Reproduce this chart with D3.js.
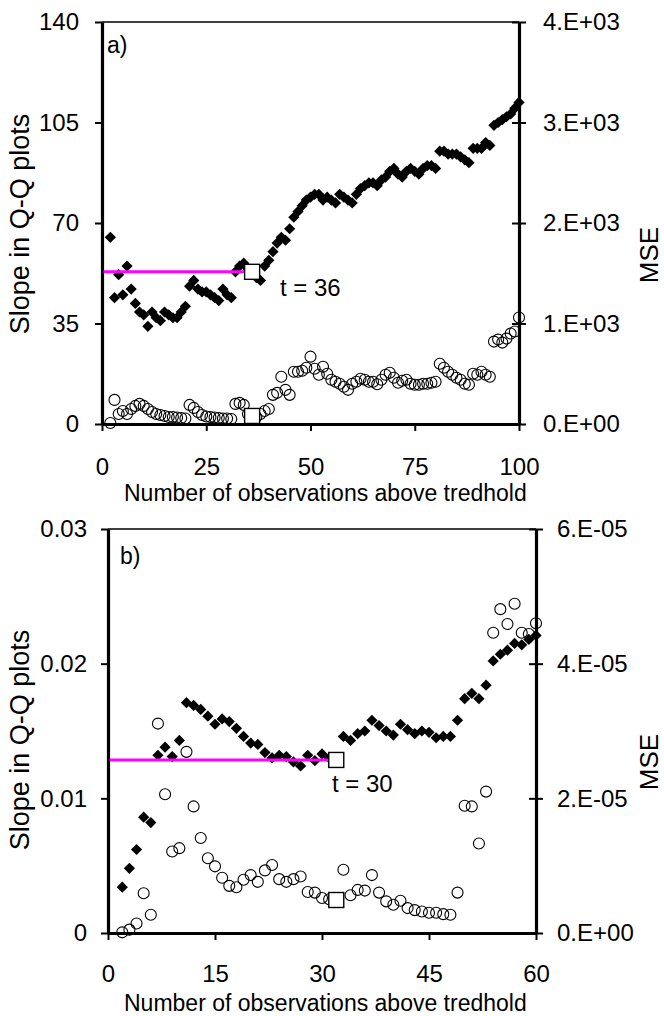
<!DOCTYPE html>
<html>
<head>
<meta charset="utf-8">
<script src="https://cdn.jsdelivr.net/npm/d3@7"></script>
<style>
  html, body { margin: 0; padding: 0; background: #fff; }
  svg { display: block; }
  text { font-family: "Liberation Sans", Arial, sans-serif; fill: #000; }
</style>
</head>
<body>
<svg id="chart" width="664" height="1016"></svg>
<script>
// ---------------- DATA ----------------
// Panel a: x = 2 .. 100
const xStartA = 2;
const slopeA = [65,44,52,45,55,47,42,39,38,34,
  39,37,36,39,38,37,37,39,41,48,
  50,47,46,46,45,44,43,47,45,44,
  53,55,56,54,53,51,50,55,57,60,
  63,65,64,68,72,74,76,78,79,80,
  80,78,79,78,77,80,79,78,77,80,
  82,83,84,84,83,85,86,88,89,87,
  86,88,89,88,87,89,90,90,89,95,
  95,94,94,94,93,92,91,96,96,96,
  98,97,104,105,106,107,108,110,112];
const mseA = [10,240,100,130,100,150,180,200,180,150,
  120,100,90,80,70,70,65,60,55,190,
  160,120,90,75,70,65,60,55,55,50,
  200,210,190,100,80,70,100,130,150,290,
  310,470,340,290,520,520,530,560,670,550,
  490,570,500,440,420,400,370,340,400,420,
  450,440,420,420,395,440,490,510,460,410,
  430,440,400,390,390,400,400,410,420,600,
  560,520,490,460,440,400,390,500,490,520,
  490,470,820,840,810,850,900,920,1060];
const thresholdA = {x: 36, slope: 53, mse: 80, label: "t = 36"};

// Panel b: x = 2 .. 60
const xStartB = 2;
const slopeB = [0.0034,0.0048,0.0062,0.0086,0.0082,0.0132,0.0138,0.0131,0.0143,0.0171,
  0.0169,0.0166,0.0161,0.0155,0.0159,0.0157,0.0152,0.0146,0.0141,0.0140,
  0.0134,0.0130,0.0132,0.0131,0.0127,0.0124,0.0132,0.0128,0.0133,0.0130,
  0.0128,0.0146,0.0143,0.0148,0.0150,0.0158,0.0154,0.0150,0.0147,0.0155,
  0.0151,0.0148,0.0150,0.0149,0.0145,0.0146,0.0146,0.0158,0.0174,0.0178,
  0.0174,0.0184,0.0202,0.0207,0.0210,0.0215,0.0214,0.0218,0.0221];
const mseB = [0.1e-6,0.5e-6,1.4e-6,5.9e-6,2.7e-6,31.1e-6,20.6e-6,12.1e-6,12.6e-6,26.9e-6,
  18.8e-6,14.1e-6,11.1e-6,9.9e-6,8.2e-6,7.0e-6,6.8e-6,7.9e-6,8.6e-6,7.6e-6,
  9.3e-6,10.1e-6,8.0e-6,7.6e-6,8.0e-6,8.4e-6,6.1e-6,6.0e-6,5.2e-6,5.0e-6,
  4.9e-6,9.4e-6,5.6e-6,6.4e-6,6.3e-6,8.6e-6,6.0e-6,4.7e-6,4.2e-6,4.8e-6,
  3.7e-6,3.4e-6,3.2e-6,3.0e-6,3.0e-6,2.8e-6,2.7e-6,6.0e-6,18.9e-6,18.8e-6,
  13.3e-6,21.0e-6,44.6e-6,48.1e-6,45.9e-6,48.9e-6,44.6e-6,44.4e-6,46.0e-6];
const thresholdB = {x: 32, slope: 0.01285, mse: 4.9e-6, label: "t = 30"};

// Ticks
const xTicksA = [0,25,50,75,100];
const xTickLabelsA = ["0","25","50","75","100"];
const yTicksA = [0,35,70,105,140];
const yTickLabelsA = ["0","35","70","105","140"];
const rTicksA = [0,1000,2000,3000,4000];
const rTickLabelsA = ["0.E+00","1.E+03","2.E+03","3.E+03","4.E+03"];

const xTicksB = [0,15,30,45,60];
const xTickLabelsB = ["0","15","30","45","60"];
const yTicksB = [0,0.01,0.02,0.03];
const yTickLabelsB = ["0","0.01","0.02","0.03"];
const rTicksB = [0,2e-5,4e-5,6e-5];
const rTickLabelsB = ["0.E+00","2.E-05","4.E-05","6.E-05"];

const xTitle = "Number of observations above tredhold";
const yTitle = "Slope in Q-Q plots";
const rTitle = "MSE";

// ---------------- DRAW ----------------
const svg = d3.select("#chart");
const FONT_TICK = 24;

function drawPanel(cfg) {
  const g = svg.append("g");
  const x = d3.scaleLinear().domain([0, cfg.xTicks[cfg.xTicks.length-1]]).range([cfg.left, cfg.right]);
  const yL = d3.scaleLinear().domain([0, cfg.yTicks[cfg.yTicks.length-1]]).range([cfg.bottom, cfg.top]);
  const yR = d3.scaleLinear().domain([0, cfg.rTicks[cfg.rTicks.length-1]]).range([cfg.bottom, cfg.top]);

  // top border
  g.append("line").attr("x1", cfg.left).attr("x2", cfg.right)
    .attr("y1", cfg.top).attr("y2", cfg.top)
    .attr("stroke", "#000").attr("stroke-width", 1.6);

  // left axis
  const gl = g.append("g").attr("transform", `translate(${cfg.left},0)`)
    .call(d3.axisLeft(yL).tickValues(cfg.yTicks).tickFormat((d,i)=>cfg.yLabels[i])
      .tickSizeInner(7).tickSizeOuter(0).tickPadding(cfg.leftPad));
  // right axis
  const gr = g.append("g").attr("transform", `translate(${cfg.right},0)`)
    .call(d3.axisRight(yR).tickValues(cfg.rTicks).tickFormat((d,i)=>cfg.rLabels[i])
      .tickSizeInner(7).tickSizeOuter(0).tickPadding(cfg.rightPad));
  gr.selectAll(".tick line").attr("x1", -7).attr("x2", 7);
  // bottom axis
  const gb = g.append("g").attr("transform", `translate(0,${cfg.bottom})`)
    .call(d3.axisBottom(x).tickValues(cfg.xTicks).tickFormat((d,i)=>cfg.xLabels[i])
      .tickSizeInner(7).tickSizeOuter(0));
  gb.selectAll(".tick text").attr("y", cfg.xLabelBase).attr("dy", 0);

  [gl, gr, gb].forEach(a => {
    a.select(".domain").attr("stroke", "#000").attr("stroke-width", 3.2);
    a.selectAll(".tick line").attr("stroke", "#000").attr("stroke-width", 2);
    a.selectAll(".tick text").attr("font-size", FONT_TICK)
      .attr("font-family", '"Liberation Sans", Arial, sans-serif').attr("fill", "#000");
  });

  const pts = g.append("g");
  // MSE circles (right axis)
  pts.selectAll("circle.mse").data(cfg.mse).join("circle")
    .attr("class", "mse")
    .attr("cx", (d,i)=>x(i + cfg.xStart))
    .attr("cy", d=>yR(d))
    .attr("r", 5.5)
    .attr("fill", "none").attr("stroke", "#000").attr("stroke-width", 1.1);

  // slope diamonds (left axis)
  const dm = 5.6;
  pts.selectAll("path.slope").data(cfg.slope).join("path")
    .attr("class", "slope")
    .attr("transform", (d,i)=>`translate(${x(i + cfg.xStart)},${yL(d)})`)
    .attr("d", `M0,${-dm}L${dm},0L0,${dm}L${-dm},0Z`)
    .attr("fill", "#000");

  // magenta threshold line
  g.append("line")
    .attr("x1", x(0) + 1.5).attr("x2", x(cfg.th.x))
    .attr("y1", yL(cfg.th.slope)).attr("y2", yL(cfg.th.slope))
    .attr("stroke", "#FF00FF").attr("stroke-width", 3);

  // squares
  const sq = 15;
  [yL(cfg.th.slope), yR(cfg.th.mse)].forEach(cy => {
    g.append("rect")
      .attr("x", x(cfg.th.x) - sq/2).attr("y", cy - sq/2)
      .attr("width", sq).attr("height", sq)
      .attr("fill", "#fff").attr("stroke", "#000").attr("stroke-width", 1.4);
  });

  // annotation
  g.append("text").attr("x", cfg.tLabel[0]).attr("y", cfg.tLabel[1])
    .attr("font-size", 24).text(cfg.th.label);

  // panel letter
  g.append("text").attr("x", cfg.letterPos[0]).attr("y", cfg.letterPos[1])
    .attr("font-size", 23).text(cfg.letter);

  // axis titles
  g.append("text").attr("x", 124).attr("y", cfg.xTitleBase)
    .attr("font-size", 23).text(xTitle);
  g.append("text")
    .attr("transform", `translate(${cfg.yTitleX},${cfg.yTitleY}) rotate(-90)`)
    .attr("text-anchor", "middle").attr("font-size", 27).text(yTitle);
  g.append("text")
    .attr("transform", `translate(658,${cfg.rTitleY}) rotate(-90)`)
    .attr("text-anchor", "middle").attr("font-size", 26).text(rTitle);
}

drawPanel({
  left: 102, right: 519, top: 22, bottom: 424,
  xTicks: xTicksA, xLabels: xTickLabelsA,
  yTicks: yTicksA, yLabels: yTickLabelsA,
  rTicks: rTicksA, rLabels: rTickLabelsA,
  leftPad: 16, rightPad: 17, xLabelBase: 51,
  xStart: xStartA, slope: slopeA, mse: mseA, th: thresholdA,
  tLabel: [280, 296], letter: "a)", letterPos: [107, 53],
  xTitleBase: 501, yTitleX: 29, yTitleY: 224, rTitleY: 255
});

drawPanel({
  left: 108, right: 536, top: 529, bottom: 933,
  xTicks: xTicksB, xLabels: xTickLabelsB,
  yTicks: yTicksB, yLabels: yTickLabelsB,
  rTicks: rTicksB, rLabels: rTickLabelsB,
  leftPad: 14, rightPad: 14, xLabelBase: 49,
  xStart: xStartB, slope: slopeB, mse: mseB, th: thresholdB,
  tLabel: [332, 792], letter: "b)", letterPos: [120, 564],
  xTitleBase: 1011, yTitleX: 29, yTitleY: 740, rTitleY: 762
});
</script>
</body>
</html>
